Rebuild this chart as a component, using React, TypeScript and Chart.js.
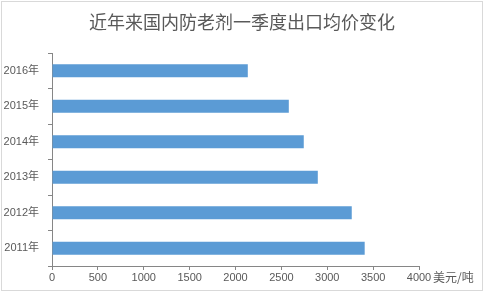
import React, { useEffect, useRef } from "react";
import { Chart, registerables } from "chart.js";

Chart.register(...registerables);

const years: string[] = ["2011年", "2012年", "2013年", "2014年", "2015年", "2016年"];
const avgPrice: number[] = [3408, 3267, 2897, 2744, 2581, 2134];
const xTicks: number[] = [0, 500, 1000, 1500, 2000, 2500, 3000, 3500, 4000];
const titleText = "近年来国内防老剂一季度出口均价变化";
const unitText = "美元/吨";

const FONT = "'Liberation Sans', 'Noto Sans CJK SC', sans-serif";
const TEXT_COLOR = "#595959";
const AXIS_COLOR = "#868686";

const decorPlugin = {
  id: "decor",
  beforeDraw(chart: any) {
    const ctx = chart.ctx;
    ctx.save();
    ctx.fillStyle = "#ffffff";
    ctx.fillRect(0, 0, chart.width, chart.height);
    ctx.strokeStyle = "#d9d9d9";
    ctx.lineWidth = 1;
    ctx.strokeRect(1.5, 1.5, chart.width - 3, chart.height - 3);
    ctx.restore();
  },
  afterDraw(chart: any) {
    const ctx = chart.ctx;
    ctx.save();
    ctx.fillStyle = TEXT_COLOR;
    ctx.font = "18px 'Noto Sans CJK SC', sans-serif";
    ctx.textAlign = "center";
    ctx.textBaseline = "middle";
    ctx.fillText(titleText, 242, 22);
    const xs = chart.scales.x;
    ctx.font = "12px 'Noto Sans CJK SC', sans-serif";
    ctx.textAlign = "left";
    ctx.fillText(unitText, xs.getPixelForValue(xTicks[xTicks.length - 1]) + 14, 277);
    ctx.restore();
  },
};

export default function App() {
  const ref = useRef<HTMLCanvasElement | null>(null);
  useEffect(() => {
    document.body.style.margin = "0";
    if (!ref.current) return;
    const chart = new Chart(ref.current, {
      type: "bar",
      data: {
        labels: years,
        datasets: [
          {
            data: avgPrice,
            backgroundColor: "#5B9BD5",
            borderWidth: 0,
            categoryPercentage: 1,
            barPercentage: 0.366,
          },
        ],
      },
      options: {
        indexAxis: "y",
        animation: false,
        responsive: false,
        maintainAspectRatio: false,
        layout: { padding: { left: 2, right: 65, top: 53, bottom: 0 } },
        plugins: {
          legend: { display: false },
          title: { display: false },
          tooltip: { enabled: false },
        },
        scales: {
          x: {
            type: "linear",
            min: 0,
            max: 4000,
            afterBuildTicks: (scale: any) => {
              scale.ticks = xTicks.map((v) => ({ value: v }));
            },
            afterFit: (scale: any) => {
              scale.height = 26;
            },
            grid: {
              drawOnChartArea: false,
              drawTicks: true,
              tickLength: 4,
              color: AXIS_COLOR,
            },
            border: { display: true, color: AXIS_COLOR },
            ticks: {
              color: TEXT_COLOR,
              font: { size: 11, family: FONT },
              padding: 1,
              maxRotation: 0,
              autoSkip: false,
              callback: (v: any) => String(v),
            },
          },
          y: {
            type: "category",
            reverse: true,
            offset: true,
            afterFit: (scale: any) => {
              scale.width = 50;
            },
            grid: {
              offset: true,
              drawOnChartArea: false,
              drawTicks: true,
              tickLength: 4,
              color: AXIS_COLOR,
            },
            border: { display: true, color: AXIS_COLOR },
            ticks: {
              color: TEXT_COLOR,
              font: { size: 11, family: FONT },
              padding: 9,
            },
          },
        },
      },
      plugins: [decorPlugin],
    });
    return () => chart.destroy();
  }, []);
  return <canvas ref={ref} width={484} height={292} style={{ display: "block" }} />;
}
